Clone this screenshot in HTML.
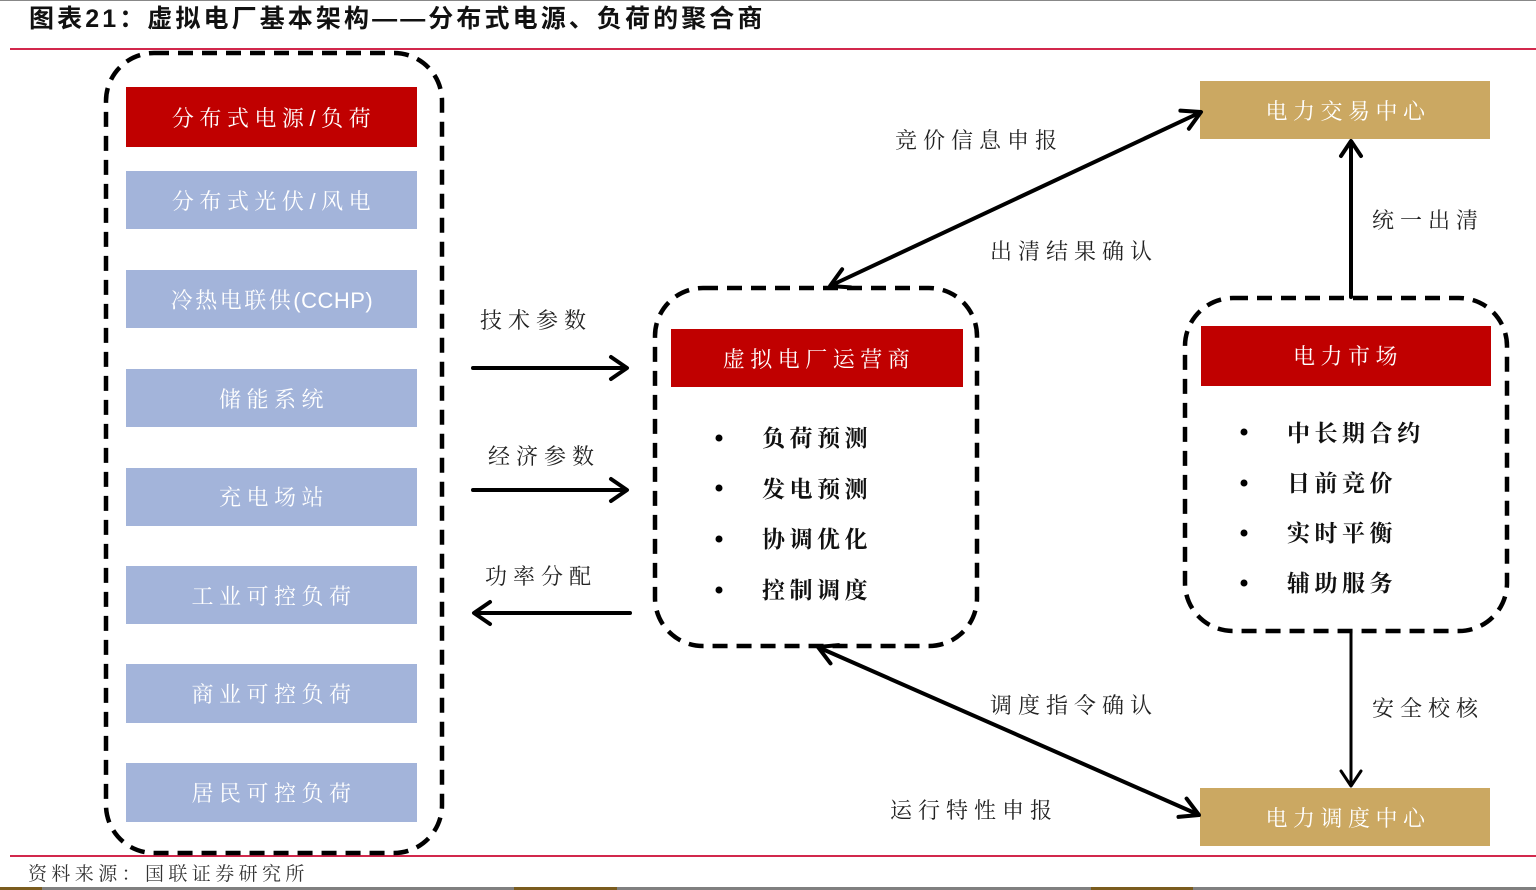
<!DOCTYPE html>
<html><head><meta charset="utf-8"><style>
html,body{margin:0;padding:0;background:#fff;}
body{width:1536px;height:890px;overflow:hidden;position:relative;}
svg{display:block;}
</style></head><body>
<svg width="1536" height="890" viewBox="0 0 1536 890" xmlns="http://www.w3.org/2000/svg">
<rect x="0" y="0" width="1536" height="1" fill="#888"/>
<text x="29" y="27" font-family="'Liberation Sans','Noto Sans CJK SC',sans-serif" font-weight="700" font-size="25" letter-spacing="3.1" fill="#111">图表21：虚拟电厂基本架构——分布式电源、负荷的聚合商</text>
<rect x="10" y="48" width="1526" height="2" fill="#d2284c"/>
<rect x="10" y="855" width="1526" height="2" fill="#d2284c"/>
<text x="28" y="880" font-family="'Liberation Serif','Noto Serif CJK SC',serif" font-size="19" letter-spacing="4.4" fill="#333">资料来源：国联证券研究所</text>
<rect x="0" y="887" width="1536" height="3" fill="#808080"/>
<rect x="0" y="887" width="42" height="3" fill="#7a5c1e"/>
<rect x="514" y="887" width="103" height="3" fill="#7a5c1e"/>
<rect x="1091" y="887" width="102" height="3" fill="#7a5c1e"/>

<g fill="none" stroke="#000" stroke-width="4.5" stroke-dasharray="15 9">
<rect x="106" y="53" width="336" height="800" rx="48"/>
<rect x="655" y="288" width="322" height="358" rx="48"/>
<rect x="1185" y="298" width="322" height="333" rx="48"/>
</g>

<g font-family="'Liberation Serif','Noto Serif CJK SC',serif" font-size="22" letter-spacing="5.5" text-anchor="middle" fill="#fff">
<rect x="126" y="87" width="291" height="60" fill="#c00000"/>
<text x="274" y="126">分布式电源<tspan font-family="'Liberation Sans',sans-serif">/</tspan>负荷</text>
<rect x="126" y="171" width="291" height="58" fill="#a3b4da"/>
<text x="274" y="209">分布式光伏<tspan font-family="'Liberation Sans',sans-serif">/</tspan>风电</text>
<rect x="126" y="270" width="291" height="58" fill="#a3b4da"/>
<text x="272" y="308" letter-spacing="2.5">冷热电联供<tspan font-family="'Liberation Sans',sans-serif" letter-spacing="0.5">(CCHP)</tspan></text>
<rect x="126" y="369" width="291" height="58" fill="#a3b4da"/>
<text x="274" y="407">储能系统</text>
<rect x="126" y="468" width="291" height="58" fill="#a3b4da"/>
<text x="274" y="505">充电场站</text>
<rect x="126" y="566" width="291" height="58" fill="#a3b4da"/>
<text x="274" y="604">工业可控负荷</text>
<rect x="126" y="664" width="291" height="59" fill="#a3b4da"/>
<text x="274" y="702">商业可控负荷</text>
<rect x="126" y="763" width="291" height="59" fill="#a3b4da"/>
<text x="274" y="801">居民可控负荷</text>

<rect x="671" y="329" width="292" height="58" fill="#c00000"/>
<text x="819" y="367">虚拟电厂运营商</text>
<rect x="1201" y="326" width="290" height="60" fill="#c00000"/>
<text x="1348" y="364">电力市场</text>
<rect x="1200" y="81" width="290" height="58" fill="#cba862"/>
<text x="1348" y="119">电力交易中心</text>
<rect x="1200" y="788" width="290" height="58" fill="#cba862"/>
<text x="1348" y="826">电力调度中心</text>
</g>

<g font-family="'Liberation Serif','Noto Serif CJK SC',serif" font-size="23" font-weight="700" letter-spacing="4.5" fill="#111">
<circle cx="719" cy="438" r="3.5" fill="#000"/><text x="762" y="446">负荷预测</text>
<circle cx="719" cy="488" r="3.5" fill="#000"/><text x="762" y="497">发电预测</text>
<circle cx="719" cy="539" r="3.5" fill="#000"/><text x="762" y="547">协调优化</text>
<circle cx="719" cy="590" r="3.5" fill="#000"/><text x="762" y="598">控制调度</text>
<circle cx="1244" cy="432" r="3.5" fill="#000"/><text x="1287" y="441">中长期合约</text>
<circle cx="1244" cy="483" r="3.5" fill="#000"/><text x="1287" y="491">日前竞价</text>
<circle cx="1244" cy="533" r="3.5" fill="#000"/><text x="1287" y="541">实时平衡</text>
<circle cx="1244" cy="583" r="3.5" fill="#000"/><text x="1287" y="591">辅助服务</text>
</g>

<g font-family="'Liberation Serif','Noto Serif CJK SC',serif" font-size="22" letter-spacing="6" fill="#222">
<text x="480" y="328">技术参数</text>
<text x="488" y="464">经济参数</text>
<text x="485" y="584">功率分配</text>
<text x="895" y="148">竞价信息申报</text>
<text x="990" y="259">出清结果确认</text>
<text x="1372" y="228">统一出清</text>
<text x="990" y="713">调度指令确认</text>
<text x="890" y="818">运行特性申报</text>
<text x="1372" y="716">安全校核</text>
</g>

<g fill="none" stroke="#000" stroke-width="4" stroke-linecap="round" stroke-linejoin="round">
<line x1="473" y1="368" x2="626" y2="368"/>
<polyline points="611,357 627,368 611,379"/>
<line x1="473" y1="490" x2="626" y2="490"/>
<polyline points="611,479 627,490 611,501"/>
<line x1="630" y1="613" x2="475" y2="613"/>
<polyline points="490,602 474,613 490,624"/>

<line x1="832" y1="285" x2="1199" y2="113"/>
<polyline points="1188.9,128.7 1201,112 1180.4,110.6"/>
<polyline points="850.5,287.4 830,286 842.1,269.3"/>

<line x1="820" y1="648" x2="1197" y2="814"/>
<polyline points="1178.5,816.9 1199,815 1186.6,798.6"/>
<polyline points="830.5,663.4 818,647 838.5,645.1"/>

<line x1="1351" y1="297" x2="1351" y2="143"/>
<polyline points="1341,156 1351,141 1361,156"/>
</g>
<g fill="none" stroke="#000" stroke-width="3" stroke-linecap="round" stroke-linejoin="round">
<line x1="1351" y1="632" x2="1351" y2="784"/>
<polyline points="1341,771 1351,786 1361,771"/>
</g>
</svg>
</body></html>
